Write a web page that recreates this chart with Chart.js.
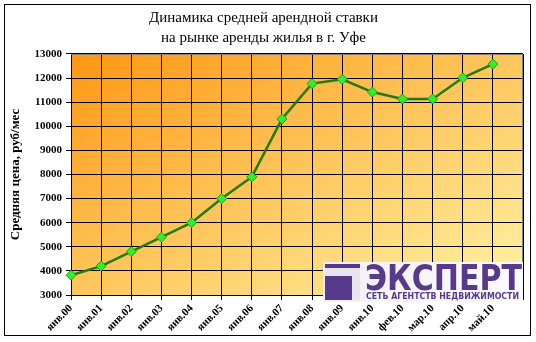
<!DOCTYPE html>
<html>
<head>
<meta charset="utf-8">
<script src="https://cdn.jsdelivr.net/npm/chart.js@4"></script>
<style>
  html, body { margin: 0; padding: 0; background: #fff; }
  #ChartDiv { width: 536px; height: 342px; }
</style>
</head>
<body>
<div id="ChartDiv"><canvas id="chart" width="536" height="342"></canvas></div>
<script>
// data
var Months = ['янв.00', 'янв.01', 'янв.02', 'янв.03', 'янв.04', 'янв.05', 'янв.06', 'янв.07',
  'янв.08', 'янв.09', 'янв.10', 'фев.10', 'мар.10', 'апр.10', 'май.10', '']
var Price = [3820, 4200, 4800, 5400, 6000, 7000, 7900, 10300,
  11770, 11950, 11420, 11130, 11130, 12010, 12580]
var TitleLines = ['Динамика средней арендной ставки', 'на рынке аренды жилья в г. Уфе']
var YTitle = 'Средняя цена, руб/мес'

var serif = '"Liberation Serif", "Times New Roman", serif'

// white page, outer frame and the orange gradient behind the grid
var backdrop = {
  id: 'backdrop',
  beforeDraw: function(chart) {
    var ctx = chart.ctx
    var a = chart.chartArea
    ctx.save()
    ctx.fillStyle = '#ffffff'
    ctx.fillRect(0, 0, chart.width, chart.height)
    ctx.strokeStyle = '#000000'
    ctx.lineWidth = 1
    ctx.strokeRect(4.5, 4.5, 526, 331)
    // corner to corner gradient: top-right and bottom-left share a colour
    var w = a.right - a.left, h = a.bottom - a.top
    var cx = a.left + w / 2, cy = a.top + h / 2
    var k = (w * h) / (h * h + w * w)
    var g = ctx.createLinearGradient(cx - h * k, cy - w * k, cx + h * k, cy + w * k)
    g.addColorStop(0, '#ff9712')
    g.addColorStop(0.5, '#ffc65c')
    g.addColorStop(1, '#fff4a8')
    ctx.fillStyle = g
    ctx.fillRect(a.left, a.top, w, h)
    ctx.restore()
  },
  afterDatasetsDraw: function(chart) {
    var ctx = chart.ctx
    var a = chart.chartArea
    ctx.save()
    ctx.strokeStyle = '#808080'
    ctx.lineWidth = 1
    ctx.beginPath()
    ctx.moveTo(a.left, a.top + 0.5)
    ctx.lineTo(a.right - 0.5, a.top + 0.5)
    ctx.lineTo(a.right - 0.5, a.bottom)
    ctx.stroke()
    ctx.restore()
  }
}

// agency logo in the lower right corner
var logo = {
  id: 'logo',
  afterDraw: function(chart) {
    var ctx = chart.ctx
    var purple = '#573a8c'
    ctx.save()
    var bg = ctx.createLinearGradient(323, 262, 523, 302)
    bg.addColorStop(0, '#f2f0f4')
    bg.addColorStop(1, '#fbfafc')
    ctx.fillStyle = bg
    ctx.fillRect(323, 262, 200, 40)
    // icon
    ctx.fillStyle = purple
    ctx.fillRect(325, 264, 35, 36)
    ctx.fillStyle = '#e8e4ee'
    ctx.beginPath()
    ctx.moveTo(325, 268)
    ctx.lineTo(360, 268)
    ctx.lineTo(360, 300)
    ctx.lineTo(352, 300)
    ctx.lineTo(352, 276)
    ctx.lineTo(325, 276)
    ctx.closePath()
    ctx.fill()
    ctx.fillStyle = purple
    var arches = [[330, 300, 7, 14], [339, 300, 6, 12], [347, 300, 5, 10]]
    arches.forEach(function(r) {
      ctx.beginPath()
      ctx.moveTo(r[0], r[1])
      ctx.lineTo(r[0], r[1] - r[3] + r[2] / 2)
      ctx.arc(r[0] + r[2] / 2, r[1] - r[3] + r[2] / 2, r[2] / 2, Math.PI, 0)
      ctx.lineTo(r[0] + r[2], r[1])
      ctx.closePath()
      ctx.fill()
    })
    ctx.fillStyle = purple
    ctx.textBaseline = 'alphabetic'
    ctx.textAlign = 'left'
    ctx.font = 'bold 36px "DejaVu Sans", sans-serif'
    ctx.fillText('ЭКСПЕРТ', 365, 290, 157)
    ctx.font = 'bold 8px "DejaVu Sans", sans-serif'
    ctx.fillText('СЕТЬ АГЕНТСТВ НЕДВИЖИМОСТИ', 366, 299, 153)
    ctx.restore()
  }
}

window.onload = function() {
  DrawGraph()
}

function DrawGraph() {
  var chartPlacement = document.getElementById('chart').getContext('2d')
  new Chart(chartPlacement, {
    type: 'line',
    data: {
      labels: Months,
      datasets: [{
        label: 'Средняя цена',
        data: Price,
        borderColor: '#237a12',
        borderWidth: 2.5,
        backgroundColor: '#2ef02e',
        pointStyle: 'rectRot',
        pointRadius: 5,
        pointBorderColor: '#2a9a1a',
        pointBorderWidth: 1,
        pointBackgroundColor: '#2ef02e',
        tension: 0,
        fill: false
      }]
    },
    options: {
      responsive: false,
      animation: false,
      devicePixelRatio: 1,
      layout: { padding: { left: 4, right: 13, top: 0, bottom: 6 } },
      plugins: {
        legend: { display: false },
        tooltip: { enabled: false },
        title: {
          display: true,
          text: TitleLines,
          color: '#000000',
          font: { family: serif, size: 15, weight: 'normal', lineHeight: 1.333 },
          padding: { top: 8, bottom: 6 }
        }
      },
      scales: {
        x: {
          type: 'category',
          offset: false,
          grid: { display: true, color: '#000000', lineWidth: 1, offset: false, tickLength: 5, drawTicks: true },
          border: { color: '#000000', width: 1 },
          ticks: {
            autoSkip: false,
            minRotation: 45,
            maxRotation: 45,
            color: '#000000',
            padding: 2,
            font: { family: serif, size: 11, weight: 'bold' }
          },
          afterFit: function(scale) { scale.height = 41 }
        },
        y: {
          min: 3000,
          max: 13000,
          grid: { color: '#000000', lineWidth: 1, tickLength: 5 },
          border: { color: '#000000', width: 1 },
          ticks: {
            stepSize: 1000,
            color: '#000000',
            padding: 4,
            font: { family: serif, size: 11, weight: 'bold' },
            callback: function(v) { return String(v) }
          },
          title: {
            display: true,
            text: YTitle,
            color: '#000000',
            font: { family: serif, size: 13, weight: 'bold' },
            padding: { top: 4, bottom: 2 }
          },
          afterFit: function(scale) { scale.width = 67 }
        }
      }
    },
    plugins: [backdrop, logo]
  })
}
</script>
</body>
</html>
